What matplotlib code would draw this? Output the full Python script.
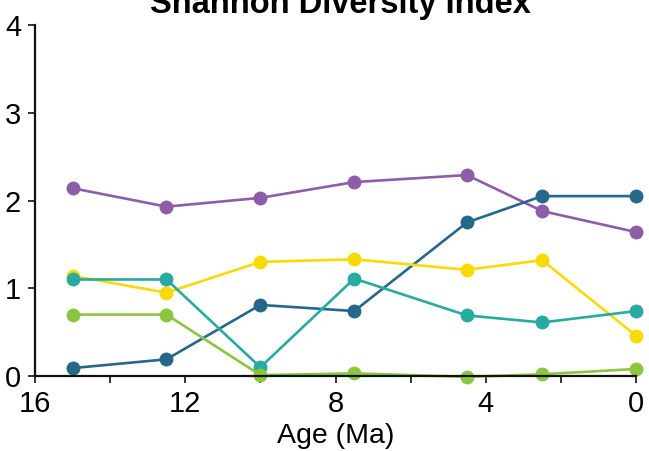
import matplotlib
matplotlib.use("Agg")
import matplotlib.pyplot as plt

plt.rcParams['font.family'] = ['Liberation Sans', 'DejaVu Sans']

ages = [15.0, 12.5, 10.0, 7.5, 4.5, 2.5, 0.0]
series_purple = [2.14, 1.93, 2.03, 2.21, 2.29, 1.88, 1.64]
series_darkblue = [0.09, 0.19, 0.81, 0.74, 1.75, 2.05, 2.05]
series_yellow = [1.14, 0.95, 1.30, 1.33, 1.21, 1.32, 0.46]
series_teal = [1.10, 1.10, 0.10, 1.11, 0.69, 0.61, 0.74]
series_green = [0.70, 0.70, 0.01, 0.03, -0.01, 0.02, 0.08]

series = [series_purple, series_darkblue, series_yellow, series_teal, series_green]
colors = ['#8d5da8', '#25688a', '#f7da06', '#27aaa0', '#8cc640']

W, H = 649, 451
fig = plt.figure(figsize=(W / 100, H / 100), dpi=100)
ax = fig.add_axes([35 / W, (H - 376) / H, (636 - 35) / W, (376 - 25) / H])

for vals, c in zip(series, colors):
    ax.plot(ages, vals, color=c, lw=1.9, marker='o', ms=9, mec=c, mfc=c,
            clip_on=False, solid_capstyle='round')

ax.set_xlim(16, 0)
ax.set_ylim(0, 4)
ax.set_xticks([16, 12, 8, 4, 0])
ax.set_xticks([14, 10, 6, 2], minor=True)
ax.set_yticks([0, 1, 2, 3, 4])
for s in ['top', 'right']:
    ax.spines[s].set_visible(False)
for s in ['left', 'bottom']:
    ax.spines[s].set_linewidth(1.6)
    ax.spines[s].set_color('#111111')
ax.tick_params(axis='both', which='both', direction='out', length=5, width=1.4,
               color='#333333', labelsize=21)
ax.tick_params(axis='x', pad=5)
ax.tick_params(axis='y', pad=5)
ax.set_xlabel('Age (Ma)', fontsize=20.5, labelpad=4)
fig.text(340 / W, 1 - 13 / H, 'Shannon Diversity Index', ha='center', va='baseline',
         fontsize=23.5, fontweight='bold')

fig.savefig('out.png', dpi=100)
